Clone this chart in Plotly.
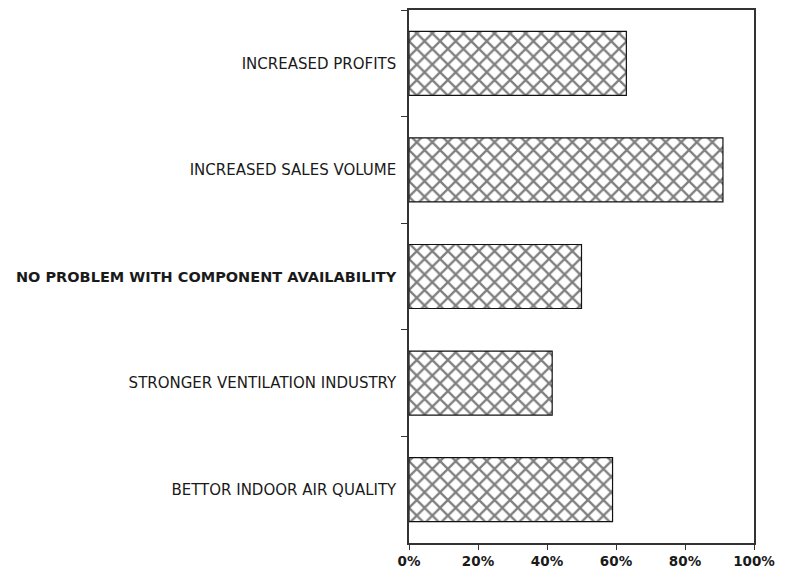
import plotly.graph_objects as go

categories = [
    "INCREASED PROFITS",
    "INCREASED SALES VOLUME",
    "<span style='font-size:14.5px;font-weight:bold'>NO PROBLEM WITH COMPONENT AVAILABILITY</span>",
    "STRONGER VENTILATION INDUSTRY",
    "BETTOR INDOOR AIR QUALITY",
]
values = [63, 91, 50, 41.5, 59]
x_ticks = [0, 20, 40, 60, 80, 100]
x_tick_labels = ["0%", "20%", "40%", "60%", "80%", "100%"]

fig = go.Figure(
    go.Bar(
        y=categories,
        x=values,
        orientation="h",
        width=0.6,
        marker=dict(
            color="white",
            line=dict(color="#111", width=1.2),
            pattern=dict(shape="x", fgcolor="black", bgcolor="white", size=11, solidity=0.37),
        ),
    )
)

# body margin of 8px in the page is compensated for in size/margins
fig.update_layout(
    width=781,
    height=563,
    margin=dict(l=401, r=35, t=2, b=28, autoexpand=False),
    plot_bgcolor="white",
    paper_bgcolor="white",
    showlegend=False,
    font=dict(family="DejaVu Sans", color="#1a1a1a", size=12),
)
fig.update_xaxes(
    range=[0, 100],
    tickvals=x_ticks,
    ticktext=x_tick_labels,
    showgrid=False,
    zeroline=False,
    showline=True,
    linecolor="#333",
    linewidth=1.5,
    mirror=True,
    ticks="outside",
    ticklen=5,
    tickcolor="#333",
    tickfont=dict(size=13.5, family="DejaVu Sans", weight="bold"),
)
fig.update_yaxes(
    autorange="reversed",
    showgrid=False,
    showline=True,
    linecolor="#333",
    linewidth=1.5,
    mirror=True,
    ticks="outside",
    tickson="boundaries",
    ticklen=6,
    tickcolor="#333",
    ticklabelstandoff=8,
    tickfont=dict(size=15, family="DejaVu Sans"),
)

fig.write_html("out.html")
